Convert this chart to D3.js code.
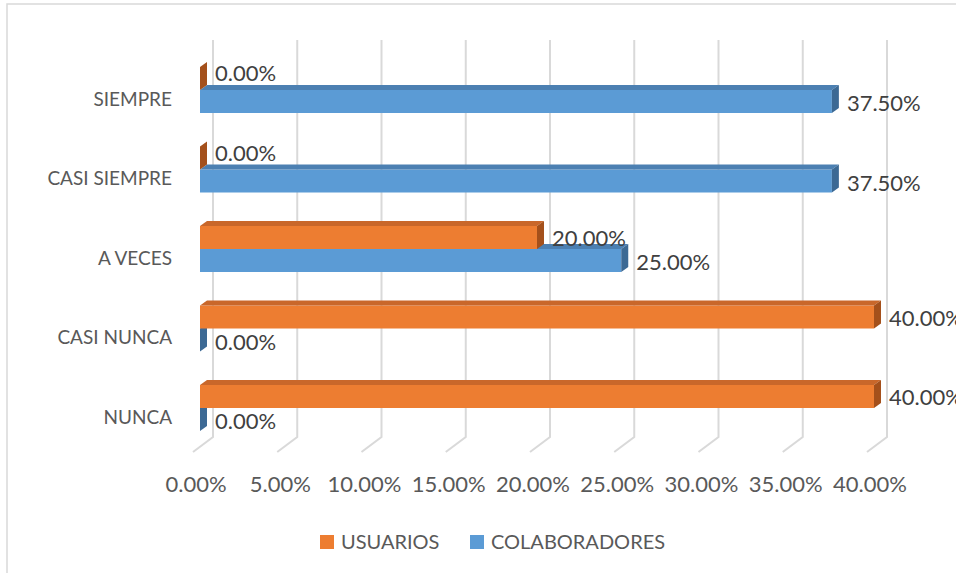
<!DOCTYPE html>
<html>
<head>
<meta charset="utf-8">
<script src="https://cdn.jsdelivr.net/npm/d3@7"></script>
<style>
  html, body { margin: 0; padding: 0; background: #fff; }
  svg { display: block; }
  text { font-family: Lato, "Open Sans", sans-serif; }
</style>
</head>
<body>
<svg id="chart" width="956" height="573"></svg>
<script>
// ---- data ----
const categories = ["SIEMPRE", "CASI SIEMPRE", "A VECES", "CASI NUNCA", "NUNCA"];
const seriesNames = ["USUARIOS", "COLABORADORES"];
const usuarios = [0.00, 0.00, 0.20, 0.40, 0.40];
const colaboradores = [0.375, 0.375, 0.25, 0.00, 0.00];
const tickValues = [0, 0.05, 0.10, 0.15, 0.20, 0.25, 0.30, 0.35, 0.40];

const colors = {
  USUARIOS: { front: "#ED7D31", top: "#C9672A", side: "#A4501B" },
  COLABORADORES: { front: "#5B9BD5", top: "#4C80B2", side: "#3C6994" }
};

const svg = d3.select("#chart");
const W = 956, H = 573;

// chart border
svg.append("rect").attr("x", 7).attr("y", 4).attr("width", W + 10).attr("height", H + 10)
  .attr("fill", "#fff").attr("stroke", "#D9D9D9").attr("stroke-width", 1.5);

const x = d3.scaleLinear().domain([0, 0.4]).range([200, 874]);
const y = d3.scaleBand().domain(categories).range([50.25, 447.75]).padding(0);

// 3D parameters
const dx = 7, dy = -5;          // bar depth
const backDx = 13, frontDx = -7; // gridline wall/floor offsets
const wallTop = 40, wallBottom = 437, floorFront = 452;
const barH = 23;

// gridlines
const grid = svg.append("g");
tickValues.forEach(v => {
  const xb = x(v) + backDx, xf = x(v) + frontDx;
  grid.append("path")
    .attr("d", `M${xb},${wallTop} L${xb},${wallBottom} L${xf},${floorFront}`)
    .attr("fill", "none").attr("stroke", "#D9D9D9").attr("stroke-width", 2);
});

// tick labels
const tickFmt = d3.format(".2%");
svg.append("g").selectAll("text").data(tickValues).join("text")
  .attr("x", v => x(v) - 4).attr("y", 492)
  .attr("text-anchor", "middle").attr("font-size", 22).attr("fill", "#595959")
  .text(v => tickFmt(v));

// category labels
svg.append("g").selectAll("text").data(categories).join("text")
  .attr("x", 172).attr("y", c => y(c) + y.bandwidth() / 2 + 9).attr("dy", "0.35em")
  .attr("text-anchor", "end").attr("font-size", 19).attr("fill", "#595959")
  .text(c => c);

function drawBar(g, v, top, col) {
  const x0 = x(0), x1 = x(v), b = top + barH;
  // front
  g.append("rect").attr("x", x0).attr("y", top).attr("width", Math.max(0, x1 - x0)).attr("height", barH)
    .attr("fill", col.front);
  // top face
  g.append("path").attr("d", `M${x0},${top} L${x0 + dx},${top + dy} L${x1 + dx},${top + dy} L${x1},${top} Z`)
    .attr("fill", col.top);
  // side face
  g.append("path").attr("d", `M${x1},${top} L${x1 + dx},${top + dy} L${x1 + dx},${b + dy} L${x1},${b} Z`)
    .attr("fill", col.side);
}

const bars = svg.append("g");
const labels = svg.append("g");
const labFmt = d3.format(".2%");
categories.forEach((c, i) => {
  const center = y(c) + y.bandwidth() / 2;
  // blue (lower) first, then orange (upper) on top
  drawBar(bars, colaboradores[i], center, colors.COLABORADORES);
  drawBar(bars, usuarios[i], center - barH, colors.USUARIOS);
  labels.append("text").attr("x", x(usuarios[i]) + dx + 8).attr("y", center - barH / 2 + (usuarios[i] === 0 ? -5 : 1))
    .attr("dy", "0.35em").attr("font-size", 22).attr("fill", "#404040").text(labFmt(usuarios[i]));
  labels.append("text").attr("x", x(colaboradores[i]) + dx + 8).attr("y", center + barH / 2 + 2)
    .attr("dy", "0.35em").attr("font-size", 22).attr("fill", "#404040").text(labFmt(colaboradores[i]));
});

// legend
const legend = svg.append("g");
const legItems = [
  { name: seriesNames[0], x: 320, col: colors.USUARIOS.front },
  { name: seriesNames[1], x: 470, col: colors.COLABORADORES.front }
];
legItems.forEach(it => {
  legend.append("rect").attr("x", it.x).attr("y", 535).attr("width", 14).attr("height", 14).attr("fill", it.col);
  legend.append("text").attr("x", it.x + 21).attr("y", 542).attr("dy", "0.35em")
    .attr("font-size", 20).attr("fill", "#595959").text(it.name);
});
</script>
</body>
</html>
